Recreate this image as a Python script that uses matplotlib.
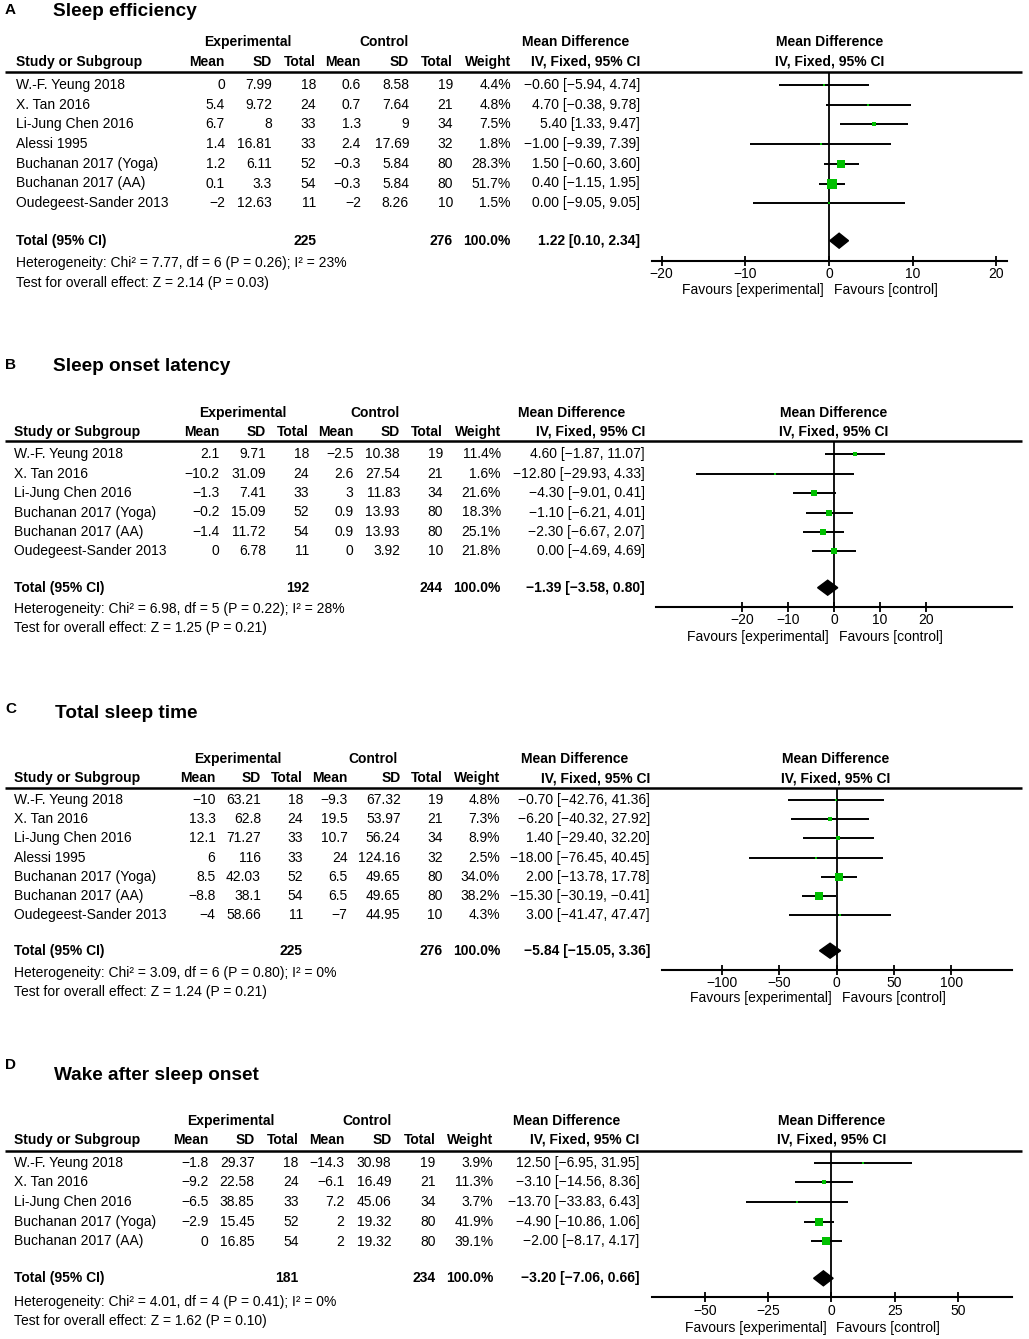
import matplotlib
matplotlib.use("Agg")
import matplotlib.pyplot as plt

plt.rcParams['font.family'] = ['Liberation Sans', 'DejaVu Sans']

W, H = 1029, 1339
GREEN = '#00C000'

# ---- data: A, sleep efficiency ----
a_studies = ["W.-F. Yeung 2018", "X. Tan 2016", "Li-Jung Chen 2016", "Alessi 1995",
             "Buchanan 2017 (Yoga)", "Buchanan 2017 (AA)", "Oudegeest-Sander 2013"]
a_exp_mean = [0, 5.4, 6.7, 1.4, 1.2, 0.1, -2]
a_exp_sd = [7.99, 9.72, 8, 16.81, 6.11, 3.3, 12.63]
a_exp_n = [18, 24, 33, 33, 52, 54, 11]
a_ctl_mean = [0.6, 0.7, 1.3, 2.4, -0.3, -0.3, -2]
a_ctl_sd = [8.58, 7.64, 9, 17.69, 5.84, 5.84, 8.26]
a_ctl_n = [19, 21, 34, 32, 80, 80, 10]
a_weight = [4.4, 4.8, 7.5, 1.8, 28.3, 51.7, 1.5]
a_md = [-0.60, 4.70, 5.40, -1.00, 1.50, 0.40, 0.00]
a_lo = [-5.94, -0.38, 1.33, -9.39, -0.60, -1.15, -9.05]
a_hi = [4.74, 9.78, 9.47, 7.39, 3.60, 1.95, 9.05]
a_total = (225, 276, 1.22, 0.10, 2.34)
a_het = "Heterogeneity: Chi\u00b2 = 7.77, df = 6 (P = 0.26); I\u00b2 = 23%"
a_test = "Test for overall effect: Z = 2.14 (P = 0.03)"

# ---- data: B, sleep onset latency ----
b_studies = ["W.-F. Yeung 2018", "X. Tan 2016", "Li-Jung Chen 2016",
             "Buchanan 2017 (Yoga)", "Buchanan 2017 (AA)", "Oudegeest-Sander 2013"]
b_exp_mean = [2.1, -10.2, -1.3, -0.2, -1.4, 0]
b_exp_sd = [9.71, 31.09, 7.41, 15.09, 11.72, 6.78]
b_exp_n = [18, 24, 33, 52, 54, 11]
b_ctl_mean = [-2.5, 2.6, 3, 0.9, 0.9, 0]
b_ctl_sd = [10.38, 27.54, 11.83, 13.93, 13.93, 3.92]
b_ctl_n = [19, 21, 34, 80, 80, 10]
b_weight = [11.4, 1.6, 21.6, 18.3, 25.1, 21.8]
b_md = [4.60, -12.80, -4.30, -1.10, -2.30, 0.00]
b_lo = [-1.87, -29.93, -9.01, -6.21, -6.67, -4.69]
b_hi = [11.07, 4.33, 0.41, 4.01, 2.07, 4.69]
b_total = (192, 244, -1.39, -3.58, 0.80)
b_het = "Heterogeneity: Chi\u00b2 = 6.98, df = 5 (P = 0.22); I\u00b2 = 28%"
b_test = "Test for overall effect: Z = 1.25 (P = 0.21)"

# ---- data: C, total sleep time ----
c_studies = a_studies
c_exp_mean = [-10, 13.3, 12.1, 6, 8.5, -8.8, -4]
c_exp_sd = [63.21, 62.8, 71.27, 116, 42.03, 38.1, 58.66]
c_exp_n = [18, 24, 33, 33, 52, 54, 11]
c_ctl_mean = [-9.3, 19.5, 10.7, 24, 6.5, 6.5, -7]
c_ctl_sd = [67.32, 53.97, 56.24, 124.16, 49.65, 49.65, 44.95]
c_ctl_n = [19, 21, 34, 32, 80, 80, 10]
c_weight = [4.8, 7.3, 8.9, 2.5, 34.0, 38.2, 4.3]
c_md = [-0.70, -6.20, 1.40, -18.00, 2.00, -15.30, 3.00]
c_lo = [-42.76, -40.32, -29.40, -76.45, -13.78, -30.19, -41.47]
c_hi = [41.36, 27.92, 32.20, 40.45, 17.78, -0.41, 47.47]
c_total = (225, 276, -5.84, -15.05, 3.36)
c_het = "Heterogeneity: Chi\u00b2 = 3.09, df = 6 (P = 0.80); I\u00b2 = 0%"
c_test = "Test for overall effect: Z = 1.24 (P = 0.21)"

# ---- data: D, wake after sleep onset ----
d_studies = ["W.-F. Yeung 2018", "X. Tan 2016", "Li-Jung Chen 2016",
             "Buchanan 2017 (Yoga)", "Buchanan 2017 (AA)"]
d_exp_mean = [-1.8, -9.2, -6.5, -2.9, 0]
d_exp_sd = [29.37, 22.58, 38.85, 15.45, 16.85]
d_exp_n = [18, 24, 33, 52, 54]
d_ctl_mean = [-14.3, -6.1, 7.2, 2, 2]
d_ctl_sd = [30.98, 16.49, 45.06, 19.32, 19.32]
d_ctl_n = [19, 21, 34, 80, 80]
d_weight = [3.9, 11.3, 3.7, 41.9, 39.1]
d_md = [12.50, -3.10, -13.70, -4.90, -2.00]
d_lo = [-6.95, -14.56, -33.83, -10.86, -8.17]
d_hi = [31.95, 8.36, 6.43, 1.06, 4.17]
d_total = (181, 234, -3.20, -7.06, 0.66)
d_het = "Heterogeneity: Chi\u00b2 = 4.01, df = 4 (P = 0.41); I\u00b2 = 0%"
d_test = "Test for overall effect: Z = 1.62 (P = 0.10)"

panel_letters = ["A", "B", "C", "D"]
panel_titles = ["Sleep efficiency", "Sleep onset latency", "Total sleep time", "Wake after sleep onset"]
x_ticks = [[-20, -10, 0, 10, 20], [-20, -10, 0, 10, 20], [-100, -50, 0, 50, 100], [-50, -25, 0, 25, 50]]


def fnum(v):
    return f"{v:g}".replace("-", "\u2212")


def fmd(m, lo, hi):
    return f"{m:.2f} [{lo:.2f}, {hi:.2f}]".replace("-", "\u2212")


fig = plt.figure(figsize=(W / 100, H / 100), dpi=100)
ax0 = fig.add_axes([0, 0, 1, 1])
ax0.set_xlim(0, W)
ax0.set_ylim(H, 0)
ax0.axis("off")

FS = 10


def txt(x, y, s, ha="left", bold=False, size=FS):
    ax0.text(x, y, s, ha=ha, va="center", fontsize=size,
             fontweight="bold" if bold else "normal")


def draw_panel(i, lay, studies, cols, weight, md, lo, hi, total, het, test):
    letter_y, title_x, title_y = lay["letter_y"], lay["title_x"], lay["title_y"]
    txt(5, letter_y, panel_letters[i], bold=True, size=11)
    txt(title_x, title_y, panel_titles[i], bold=True, size=13.7)

    cx = lay["cols"]
    gy, hy, ly = lay["grp_y"], lay["hdr_y"], lay["line_y"]
    txt(lay["exp_c"], gy, "Experimental", ha="center", bold=True)
    txt(lay["ctl_c"], gy, "Control", ha="center", bold=True)
    txt(lay["md_c"], gy, "Mean Difference", ha="center", bold=True)
    txt(lay["study_x"], hy, "Study or Subgroup", bold=True)
    for x, h in zip(cx, ["Mean", "SD", "Total", "Mean", "SD", "Total", "Weight",
                         "IV, Fixed, 95% CI"]):
        txt(x, hy, h, ha="right", bold=True)
    ax0.plot([5, 1022], [ly, ly], color="black", lw=1.8, solid_capstyle="butt")

    rows = [lay["row0"] + k * lay["step"] for k in range(len(studies))]
    for k, y in enumerate(rows):
        txt(lay["study_x"], y, studies[k])
        vals = [fnum(cols[0][k]), fnum(cols[1][k]), str(cols[2][k]),
                fnum(cols[3][k]), fnum(cols[4][k]), str(cols[5][k]),
                f"{weight[k]:.1f}%", fmd(md[k], lo[k], hi[k])]
        for x, v in zip(cx, vals):
            txt(x, y, v, ha="right")

    ty = lay["total_y"]
    txt(lay["study_x"], ty, "Total (95% CI)", bold=True)
    txt(cx[2], ty, str(total[0]), ha="right", bold=True)
    txt(cx[5], ty, str(total[1]), ha="right", bold=True)
    txt(cx[6], ty, "100.0%", ha="right", bold=True)
    txt(cx[7], ty, fmd(*total[2:]), ha="right", bold=True)
    txt(lay["study_x"], lay["het_y"], het)
    txt(lay["study_x"], lay["test_y"], test)

    # forest plot
    left, right, axis_y = lay["f_left"], lay["f_right"], lay["axis_y"]
    fc = lay["f_center"]
    txt(fc, gy, "Mean Difference", ha="center", bold=True)
    txt(fc, hy, "IV, Fixed, 95% CI", ha="center", bold=True)

    ax = fig.add_axes([left / W, 1 - axis_y / H, (right - left) / W, (axis_y - ly) / H])
    ax.set_xlim(*lay["xlim"])
    ax.set_ylim(axis_y, ly)
    ax.patch.set_alpha(0)
    for s in ["top", "left", "right"]:
        ax.spines[s].set_visible(False)
    ax.spines["bottom"].set_linewidth(1.5)
    ax.set_yticks([])
    ax.set_xticks(x_ticks[i])
    ax.set_xticklabels([fnum(t) for t in x_ticks[i]])
    ax.tick_params(axis="x", direction="inout", length=7, width=1.3, labelsize=FS, pad=1)
    ax.axvline(0, color="black", lw=1.3)

    for k, y in enumerate(rows):
        ax.plot([lo[k], hi[k]], [y, y], color="black", lw=1.4, solid_capstyle="butt")
        side = max(2.2, 1.35 * weight[k] ** 0.5)
        ax.scatter([md[k]], [y], marker="s", s=(side * 0.72) ** 2, color=GREEN,
                   linewidths=0, zorder=3)
    m, tl, th = total[2:]
    ax.fill([tl, m, th, m], [ty, ty - 7.5, ty, ty + 7.5], color="black", zorder=3)

    zero_px = left + (0 - lay["xlim"][0]) / (lay["xlim"][1] - lay["xlim"][0]) * (right - left)
    txt(zero_px - 5, lay["fav_y"], "Favours [experimental]", ha="right")
    txt(zero_px + 5, lay["fav_y"], "Favours [control]", ha="left")


layouts = [
    dict(letter_y=10, title_x=53, title_y=11, grp_y=42, hdr_y=62, line_y=71.7,
         row0=85, step=19.7, total_y=240.7, het_y=263, test_y=283, study_x=16,
         cols=[225, 272, 316, 361, 409, 453, 511, 640], exp_c=248, ctl_c=384, md_c=576,
         f_left=651.7, f_right=1007, axis_y=260.7, xlim=(-21.2, 21.3), fav_y=290, f_center=830),
    dict(letter_y=365, title_x=52.6, title_y=366.7, grp_y=412.7, hdr_y=431.7, line_y=440.7,
         row0=454.3, step=19.4, total_y=587.7, het_y=609.3, test_y=628.3, study_x=14,
         cols=[219.7, 266, 309, 353.5, 400, 443, 501, 645], exp_c=242.4, ctl_c=375, md_c=572,
         f_left=656, f_right=1011.7, axis_y=606.7, xlim=(-38.7, 38.6), fav_y=636.7, f_center=834),
    dict(letter_y=709, title_x=54.7, title_y=714, grp_y=759.3, hdr_y=778.3, line_y=788.3,
         row0=800, step=19.2, total_y=950.7, het_y=973.3, test_y=992.3, study_x=14,
         cols=[215.5, 261, 303, 347.6, 400.7, 442.8, 500, 650], exp_c=238, ctl_c=373, md_c=575,
         f_left=661.7, f_right=1012.3, axis_y=970, xlim=(-152.6, 153), fav_y=998, f_center=836),
    dict(letter_y=1065, title_x=53.5, title_y=1075, grp_y=1120.7, hdr_y=1140, line_y=1150.7,
         row0=1162.7, step=19.7, total_y=1278.3, het_y=1301.7, test_y=1321, study_x=14,
         cols=[208.3, 254.6, 298.8, 344.3, 391.4, 435.6, 493.3, 639.7], exp_c=230.8, ctl_c=367, md_c=567,
         f_left=651.7, f_right=1012.3, axis_y=1297.3, xlim=(-71, 71.4), fav_y=1328.3, f_center=832),
]

draw_panel(0, layouts[0], a_studies,
           [a_exp_mean, a_exp_sd, a_exp_n, a_ctl_mean, a_ctl_sd, a_ctl_n],
           a_weight, a_md, a_lo, a_hi, a_total, a_het, a_test)
draw_panel(1, layouts[1], b_studies,
           [b_exp_mean, b_exp_sd, b_exp_n, b_ctl_mean, b_ctl_sd, b_ctl_n],
           b_weight, b_md, b_lo, b_hi, b_total, b_het, b_test)
draw_panel(2, layouts[2], c_studies,
           [c_exp_mean, c_exp_sd, c_exp_n, c_ctl_mean, c_ctl_sd, c_ctl_n],
           c_weight, c_md, c_lo, c_hi, c_total, c_het, c_test)
draw_panel(3, layouts[3], d_studies,
           [d_exp_mean, d_exp_sd, d_exp_n, d_ctl_mean, d_ctl_sd, d_ctl_n],
           d_weight, d_md, d_lo, d_hi, d_total, d_het, d_test)

fig.savefig("out.png", dpi=100)
